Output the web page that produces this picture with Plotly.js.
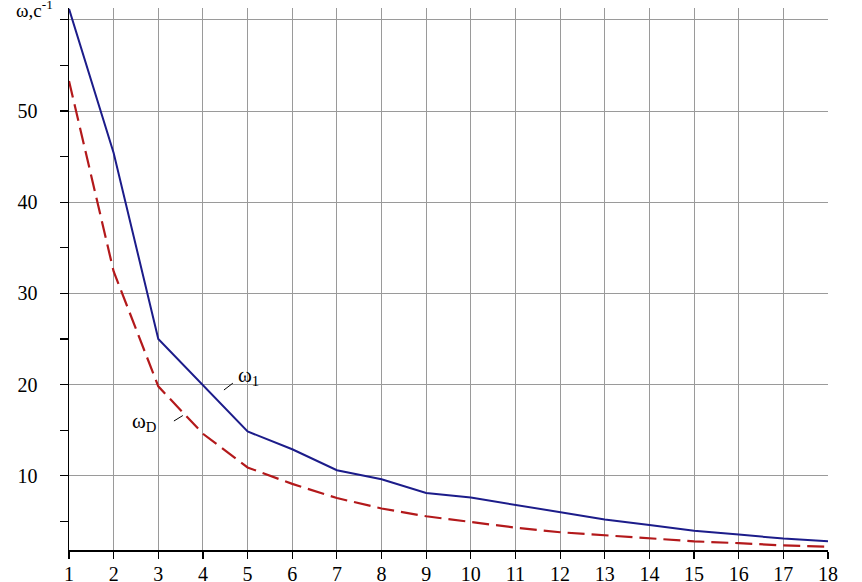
<!DOCTYPE html>
<html>
<head>
<meta charset="utf-8">
<script src="https://cdn.plot.ly/plotly-3.0.1.min.js"></script>
<style>html,body{margin:0;padding:0;background:#fff;}#chart{width:862px;height:582px;}</style>
</head>
<body>
<div id="chart"></div>
<script>
const xValues = [1,2,3,4,5,6,7,8,9,10,11,12,13,14,15,16,17,18];
const omega1 = [61.2,45.4,25.0,19.9,14.85,12.9,10.6,9.6,8.1,7.6,6.8,6.0,5.2,4.6,3.95,3.55,3.1,2.8];
const omegaD = [53.3,32.4,19.8,14.6,10.9,9.1,7.55,6.4,5.55,4.9,4.3,3.8,3.45,3.1,2.8,2.6,2.35,2.2];
const yTickVals = [10,20,30,40,50,60];
const yTickText = ['10','20','30','40','50',''];
const yLabel = 'ω,c<sup>-1</sup>';
const label1 = 'ω<sub>1</sub>';
const labelD = 'ω<sub>D</sub>';

const serif = '"Liberation Serif", "Times New Roman", serif';

const traces = [
  {x: xValues, y: omega1, mode: 'lines', line: {color: '#1c1c8a', width: 2}, cliponaxis: false, hoverinfo: 'none'},
  {x: xValues, y: omegaD, mode: 'lines', line: {color: '#b3191b', width: 2.2, dash: '17px,7px'}, cliponaxis: false, hoverinfo: 'none'}
];

const layout = {
  width: 862, height: 582,
  margin: {l: 69, r: 34, t: 8, b: 32},
  paper_bgcolor: '#fff', plot_bgcolor: '#fff',
  showlegend: false,
  font: {family: serif, size: 19, color: '#000'},
  xaxis: {
    range: [1, 18], tickvals: xValues, ticktext: xValues.map(String),
    showgrid: true, gridcolor: '#9a9a9a', gridwidth: 1,
    showline: true, linecolor: '#000', linewidth: 1.5,
    ticks: 'outside', ticklen: 7, tickcolor: '#000', tickwidth: 1.2,
    ticklabelstandoff: -2,
    tickfont: {family: serif, size: 20}, zeroline: false, fixedrange: true
  },
  yaxis: {
    range: [1.85, 61.3], tickvals: yTickVals, ticktext: yTickText,
    showgrid: true, gridcolor: '#9a9a9a', gridwidth: 1,
    showline: true, linecolor: '#000', linewidth: 1.5,
    ticks: 'outside', ticklen: 8, tickcolor: '#000', tickwidth: 1.2,
    ticklabelstandoff: 18,
    minor: {tickvals: [5,15,25,35,45,55], ticks: 'outside', ticklen: 8, tickcolor: '#000', showgrid: false},
    tickfont: {family: serif, size: 20}, zeroline: false, fixedrange: true
  },
  annotations: [
    {xref: 'paper', yref: 'paper', x: -0.072, y: 0.998, xanchor: 'left', yanchor: 'middle', text: yLabel, showarrow: false, font: {family: serif, size: 19}},
    {x: 5.03, y: 20.9, text: label1, showarrow: false, font: {family: serif, size: 21}},
    {x: 2.70, y: 15.9, text: labelD, showarrow: false, font: {family: serif, size: 21}}
  ],
  shapes: [
    {type: 'line', x0: 4.47, y0: 19.4, x1: 4.67, y1: 20.15, line: {color: '#000', width: 1}},
    {type: 'line', x0: 3.35, y0: 16.0, x1: 3.55, y1: 16.6, line: {color: '#000', width: 1}}
  ]
};

Plotly.newPlot('chart', traces, layout, {displayModeBar: false, staticPlot: true});
</script>
</body>
</html>
